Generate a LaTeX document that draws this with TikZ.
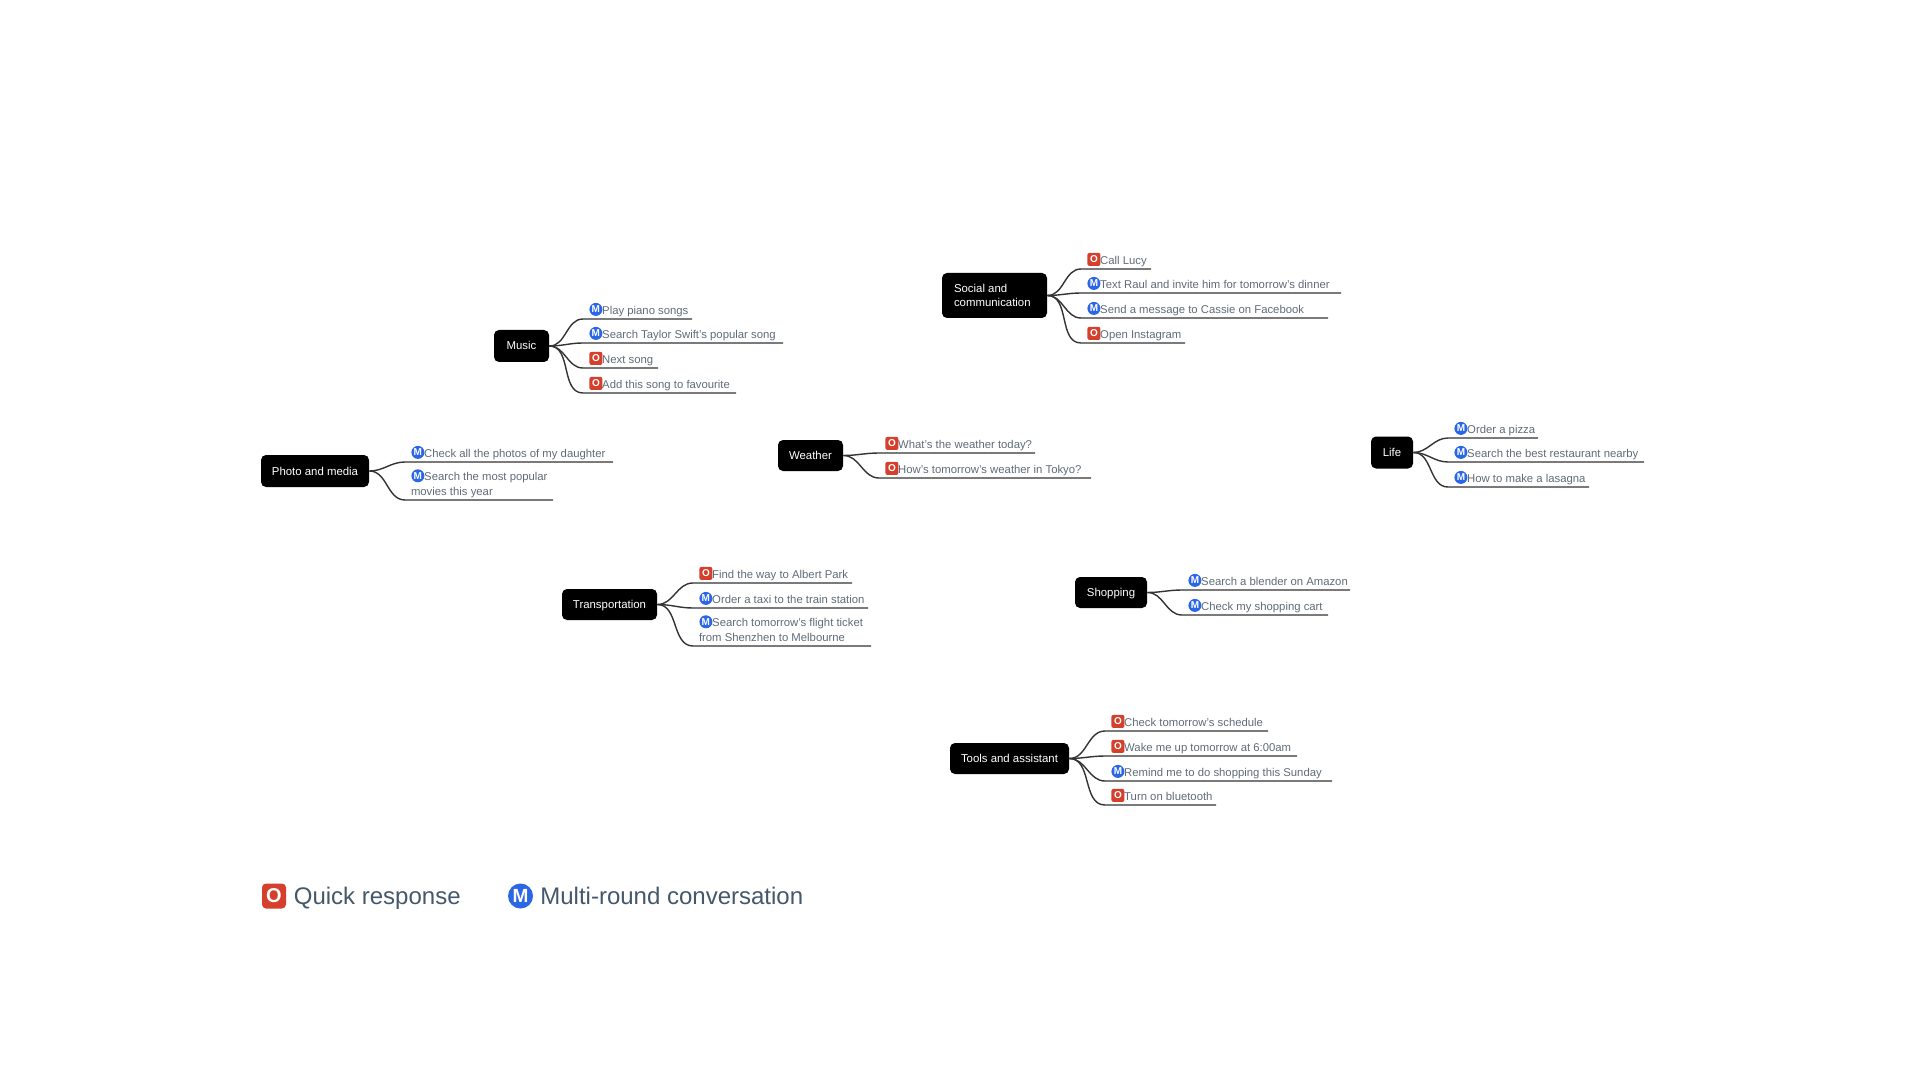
\documentclass[tikz,border=0pt]{standalone}
\usepackage{fontspec}
\setmainfont{Liberation Sans}
\definecolor{leafgray}{HTML}{5F6B78}
\definecolor{legendgray}{HTML}{44586A}
\definecolor{branchgray}{HTML}{333333}
\definecolor{quickred}{HTML}{D4402C}
\definecolor{roundblue}{HTML}{2B66E6}

\tikzset{
 topic/.style={fill=black, text=white, rounded corners=2.5pt, inner sep=0pt, align=flush left,
  font=\fontsize{5.7}{7.3}\selectfont},
 oneline/.style={topic, text height=5pt, text depth=1pt},
 leaf/.style={anchor=south west, inner xsep=0pt, inner ysep=1pt, outer sep=0pt, align=flush left,
  text=leafgray, font=\fontsize{5.66}{7.3}\selectfont},
 branch/.style={draw=branchgray, line width=0.7pt},
 iconO/.style={fill=quickred, text=white, rounded corners=1pt, minimum size=6.5pt, inner sep=0pt,
  font=\fontsize{5}{5}\selectfont\bfseries},
 iconM/.style={circle, fill=roundblue, text=white, minimum size=6.5pt, inner sep=0pt,
  font=\fontsize{5}{5}\selectfont\bfseries},
 legendtext/.style={anchor=base west, inner sep=0pt, text=legendgray,
  font=\fontsize{12}{14}\selectfont}
}

% one topic: parent node, x of the branch ends, then idx/y/xend/kind/text
\newcommand{\leaves}[3]{
 \foreach \idx/\ypos/\xend/\kind/\txt in {#3}
  {
  \pgfmathsetmacro{\leafwidth}{(\xend-#2)*0.5}
  \node[leaf, text width=\leafwidth pt] (#1\idx) at (#2,\ypos)
   {\leftskip=3pt\relax\hspace*{6.6pt}\rule{0pt}{5pt}\txt\rule[-1.3pt]{0pt}{1pt}\par};
  \node[icon\kind, anchor=west, xshift=3pt, yshift=-3.5pt] (#1\idx icon) at (#1\idx.north west) {\kind};
  \draw[branch] (#1.east) to[out=0, in=180] (#1\idx.south west) -- (#1\idx.south east);
  }
}

\begin{document}
\begin{tikzpicture}[x=0.5pt, y=-0.5pt]
\useasboundingbox (0,0) rectangle (1920,1080);

% topics
\node[oneline, minimum width=27.5pt, minimum height=16pt] (music) at (521.5,346) {Music};
\node[topic, minimum width=52.5pt, minimum height=22.5pt, text width=40.5pt] (social) at (994.5,295.5) {Social and\\communication};
\node[oneline, minimum width=54pt, minimum height=16pt] (photo) at (315,471) {Photo and media};
\node[oneline, minimum width=32.5pt, minimum height=15.5pt] (weather) at (810.5,455.5) {Weather};
\node[oneline, minimum width=21pt, minimum height=16pt] (life) at (1392,452.5) {Life};
\node[oneline, minimum width=47.5pt, minimum height=15.5pt] (transport) at (609.5,604.5) {Transportation};
\node[oneline, minimum width=36pt, minimum height=15.5pt] (shopping) at (1111,592.5) {Shopping};
\node[oneline, minimum width=59.5pt, minimum height=15.5pt] (tools) at (1009.5,758.5) {Tools and assistant};

% leaves of each topic
\leaves{music}{583}{1/319/692/M/Play piano songs, 2/343/783/M/Search Taylor Swift’s popular song,
 3/368/658/O/Next song, 4/393/736/O/Add this song to favourite}
\leaves{social}{1081}{1/269/1151/O/Call Lucy, 2/293/1341/M/Text Raul and invite him for tomorrow’s dinner,
 3/318/1328/M/Send a message to Cassie on Facebook, 4/343/1185/O/Open Instagram}
\leaves{photo}{405}{1/462/613/M/Check all the photos of my daughter,
 2/500/553/M/Search the most popular\\movies this year}
\leaves{weather}{879}{1/453/1035/O/What’s the weather today?, 2/478/1091/O/How’s tomorrow’s weather in Tokyo?}
\leaves{life}{1448}{1/438/1538/M/Order a pizza, 2/462/1644/M/Search the best restaurant nearby,
 3/487/1589/M/How to make a lasagna}
\leaves{transport}{693}{1/583/852/O/Find the way to Albert Park, 2/608/868/M/Order a taxi to the train station,
 3/646/871/M/Search tomorrow’s flight ticket\\from Shenzhen to Melbourne}
\leaves{shopping}{1182}{1/590/1350/M/Search a blender on Amazon, 2/615/1328/M/Check my shopping cart}
\leaves{tools}{1105}{1/731/1268/O/Check tomorrow’s schedule, 2/756/1297/O/Wake me up tomorrow at 6:00am,
 3/781/1332/M/Remind me to do shopping this Sunday, 4/805/1216/O/Turn on bluetooth}

% legend
\node[iconO, minimum width=12pt, minimum height=12.5pt, rounded corners=2pt, font=\fontsize{10}{10}\selectfont\bfseries] (legendO) at (274,896) {O};
\node[legendtext] (legendOtext) at (293.5,904.5) {Quick response};
\node[iconM, minimum size=12.5pt, font=\fontsize{9.5}{10}\selectfont\bfseries] (legendM) at (520.5,896) {M};
\node[legendtext] (legendMtext) at (540,904.5) {Multi-round conversation};

\end{tikzpicture}
\end{document}
